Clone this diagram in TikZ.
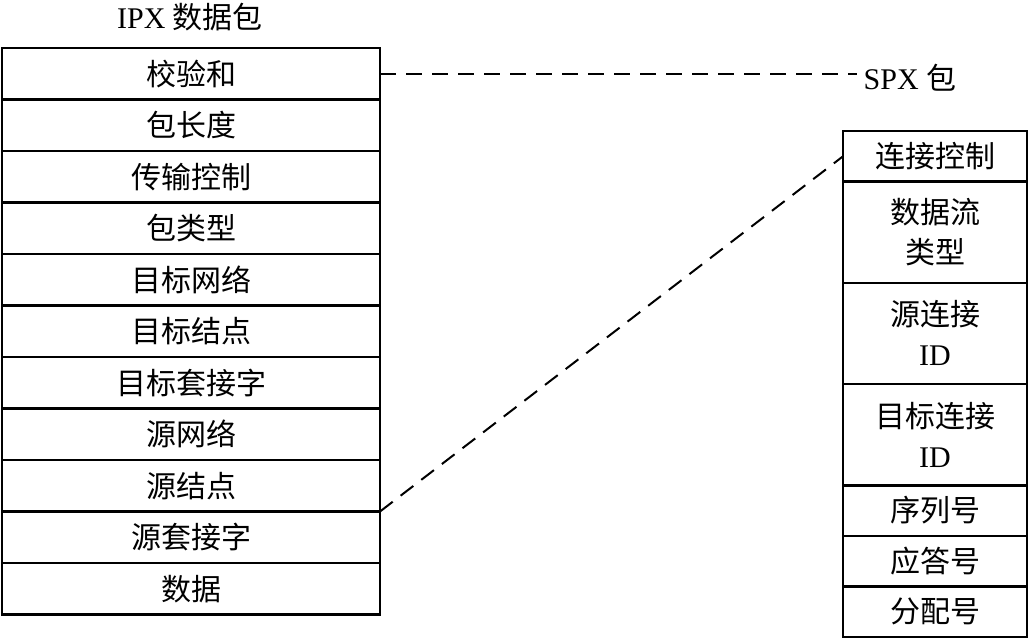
\documentclass[tikz,border=0pt]{standalone}
\usepackage{fontspec}
\setmainfont{Liberation Serif}
\newfontfamily\cjk{Noto Sans CJK SC}
\usetikzlibrary{positioning}
\tikzset{field/.style={draw,line width=1.3pt,outer sep=0pt,inner sep=0pt,minimum width=189pt,minimum height=25.75pt,align=center,font=\cjk\fontsize{15}{20}\selectfont},spxfield/.style={field,minimum width=92pt,minimum height=25.3pt},spxtall/.style={spxfield,minimum height=50.6pt},title/.style={font=\fontsize{15}{20}\selectfont},link/.style={dash pattern=on 8pt off 5pt,line width=1pt}}

\begin{document}
\begin{tikzpicture}[x=0.5pt,y=-0.5pt,node distance=0pt]
\useasboundingbox (0,0) rectangle (1029,639);
\node[title] (ipx) at (190,17) {IPX {\cjk 数据包}};
\node[field,anchor=north] (chk) at (191,48) {校验和};
\node[field,below=of chk] (len) {包长度};
\node[field,below=of len] (tc) {传输控制};
\node[field,below=of tc] (ptype) {包类型};
\node[field,below=of ptype] (dnet) {目标网络};
\node[field,below=of dnet] (dnode) {目标结点};
\node[field,below=of dnode] (dsock) {目标套接字};
\node[field,below=of dsock] (snet) {源网络};
\node[field,below=of snet] (snode) {源结点};
\node[field,below=of snode] (ssock) {源套接字};
\node[field,below=of ssock] (data) {数据};
\node[title] (spx) at (910,78) {SPX {\cjk 包}};
\node[spxfield,anchor=north] (conn) at (935,131) {连接控制};
\node[spxtall,below=of conn] (dtype) {数据流\\类型};
\node[spxtall,below=of dtype] (sid) {源连接\\{\rmfamily ID}};
\node[spxtall,below=of sid] (did) {目标连接\\{\rmfamily ID}};
\node[spxfield,below=of did] (seq) {序列号};
\node[spxfield,below=of seq] (ack) {应答号};
\node[spxfield,below=of ack] (alloc) {分配号};
\draw[link] (chk.east)--(chk.east -| spx.west);\draw[link] (ssock.north east)--(conn.west);
\end{tikzpicture}
\end{document}
